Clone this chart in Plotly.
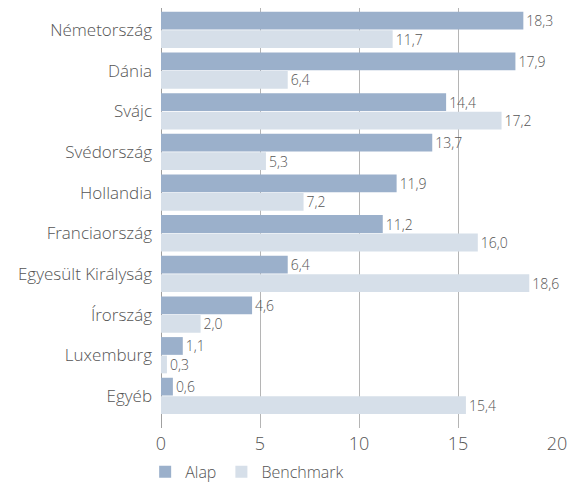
import plotly.graph_objects as go

categories = ["Németország", "Dánia", "Svájc", "Svédország", "Hollandia",
              "Franciaország", "Egyesült Királyság", "Írország", "Luxemburg", "Egyéb"]
alap = [18.3, 17.9, 14.4, 13.7, 11.9, 11.2, 6.4, 4.6, 1.1, 0.6]
benchmark = [11.7, 6.4, 17.2, 5.3, 7.2, 16.0, 18.6, 2.0, 0.3, 15.4]
x_ticks = [0, 5, 10, 15, 20]

font_family = "Open Sans, sans-serif"
text_color = "#555555"

fig = go.Figure()
fig.add_trace(go.Bar(
    y=categories, x=alap, name="Alap", orientation="h",
    marker=dict(color="#9bb0cb", line=dict(width=0)),
    texttemplate="%{x:.1f}", textposition="outside", cliponaxis=False,
    constraintext="none", hoverinfo="skip",
    textfont=dict(size=14, color=text_color, family=font_family, weight=300),
))
fig.add_trace(go.Bar(
    y=categories, x=benchmark, name="Benchmark", orientation="h",
    marker=dict(color="#d6dfe9", line=dict(width=0)),
    texttemplate="%{x:.1f}", textposition="outside", cliponaxis=False,
    constraintext="none", hoverinfo="skip",
    textfont=dict(size=14, color=text_color, family=font_family, weight=300),
))

fig.update_layout(
    width=570, height=490,
    barmode="group", bargap=0.09, bargroupgap=0.04,
    separators=", ",
    plot_bgcolor="white", paper_bgcolor="white",
    margin=dict(l=161, r=13, t=8, b=62, autoexpand=False),
    font=dict(family=font_family, color=text_color, size=16, weight=300),
    showlegend=True,
    hovermode=False,
    legend=dict(orientation="h", x=-0.04, y=-0.064, xanchor="left", yanchor="top",
                font=dict(size=16, color=text_color, weight=300), traceorder="normal",
                borderwidth=0, tracegroupgap=0, bgcolor="rgba(255,255,255,0)"),
    xaxis=dict(range=[0, 20], tickvals=x_ticks, showgrid=True, gridcolor="#b5b5b5",
               gridwidth=1, zeroline=True, zerolinecolor="#a0a0a0", zerolinewidth=1,
               showline=False, ticks="", ticklabelstandoff=3, automargin=False,
               tickfont=dict(size=18, color=text_color, weight=300)),
    yaxis=dict(range=[9.79, -0.54], showgrid=False, zeroline=False, showline=False,
               ticks="", ticklabelstandoff=8, automargin=False,
               tickfont=dict(size=17, color=text_color, weight=300)),
)

fig.write_html("out.html", config={"displayModeBar": False, "staticPlot": True},
               post_script="document.body.style.margin='0';")
